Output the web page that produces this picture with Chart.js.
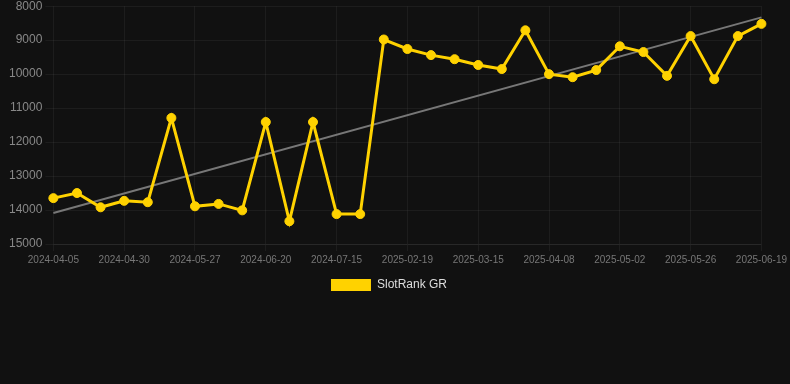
<!DOCTYPE html>
<html>
<head>
<meta charset="utf-8">
<script src="https://cdn.jsdelivr.net/npm/chart.js@4"></script>
<style>
  html, body { margin: 0; padding: 0; background: #111111; }
  #wrap { width: 790px; height: 305px; margin-top: -4px; position: relative; }
</style>
</head>
<body>
<div id="wrap"><canvas id="rankChart"></canvas></div>
<script>
// Chart data
const dates = [
    '2024-04-05', '2024-04-13', '2024-04-21', '2024-04-30', '2024-05-09', '2024-05-18',
    '2024-05-27', '2024-06-04', '2024-06-12', '2024-06-20', '2024-06-28', '2024-07-07',
    '2024-07-15', '2024-07-31', '2025-02-11', '2025-02-19', '2025-02-27', '2025-03-07',
    '2025-03-15', '2025-03-23', '2025-03-31', '2025-04-08', '2025-04-16', '2025-04-24',
    '2025-05-02', '2025-05-10', '2025-05-18', '2025-05-26', '2025-06-03', '2025-06-11',
    '2025-06-19'
];
const rankValues = [
    13650, 13500, 13920, 13730, 13770, 11290, 13890, 13820, 14010, 11410,
    14330, 11410, 14120, 14120, 8980, 9260, 9440, 9560, 9730, 9850,
    8710, 10000, 10090, 9880, 9180, 9350, 10050, 8880, 10150, 8880,
    8520
];
// trend line end points
const trendStart = 14090;
const trendEnd = 8330;
const trendValues = dates.map((d, i) => i === 0 ? trendStart : (i === dates.length - 1 ? trendEnd : null));

const yellow = '#ffd200';

const ctx = document.getElementById('rankChart').getContext('2d');
const rankChart = new Chart(ctx, {
    type: 'line',
    data: {
        labels: dates,
        datasets: [{
            label: 'SlotRank GR',
            data: rankValues,
            borderColor: yellow,
            backgroundColor: yellow,
            borderWidth: 3,
            pointRadius: 4.5,
            pointBorderWidth: 1,
            pointBackgroundColor: yellow,
            pointBorderColor: yellow,
            tension: 0
        }, {
            label: 'trend',
            data: trendValues,
            borderColor: '#777777',
            borderWidth: 2,
            pointRadius: 0,
            spanGaps: true,
            fill: false
        }]
    },
    options: {
        responsive: true,
        maintainAspectRatio: false,
        animation: false,
        layout: { padding: { left: 6, right: 18, top: 0 } },
        scales: {
            x: {
                grid: { color: 'rgba(255,255,255,0.05)', tickLength: 7 },
                border: { color: 'rgba(255,255,255,0.05)' },
                ticks: {
                    color: '#777777',
                    font: { size: 10, family: 'Arial, Liberation Sans' },
                    maxRotation: 0,
                    autoSkip: true
                }
            },
            y: {
                reverse: true,
                min: 8000,
                max: 15000,
                grid: { color: 'rgba(255,255,255,0.05)' },
                border: { display: false },
                ticks: {
                    stepSize: 1000,
                    color: '#888888',
                    font: { size: 12, family: 'Arial, Liberation Sans' },
                    callback: v => String(v)
                }
            }
        },
        plugins: {
            legend: {
                position: 'bottom',
                labels: {
                    color: '#dddddd',
                    boxWidth: 40,
                    boxHeight: 12,
                    font: { size: 12, family: 'Arial, Liberation Sans' },
                    filter: item => item.datasetIndex === 0,
                    generateLabels: chart => Chart.defaults.plugins.legend.labels.generateLabels(chart)
                        .map(item => Object.assign(item, { lineWidth: 0 }))
                }
            },
            tooltip: { enabled: false }
        }
    }
});
</script>
</body>
</html>
